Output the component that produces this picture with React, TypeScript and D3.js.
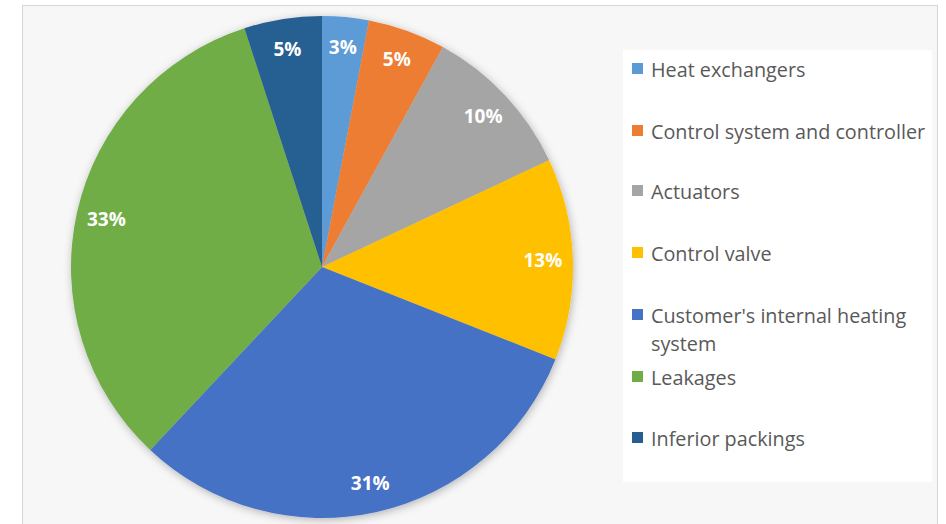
import React from "react";
import * as d3 from "d3";

const categories = [
  "Heat exchangers",
  "Control system and controller",
  "Actuators",
  "Control valve",
  "Customer's internal heating system",
  "Leakages",
  "Inferior packings",
];
const shares = [3, 5, 10, 13, 31, 33, 5];
const colors = ["#5B9BD5", "#ED7D31", "#A5A5A5", "#FFC000", "#4472C4", "#70AD47", "#255E91"];
// Legend entries split into display lines
const legendLines = [
  ["Heat exchangers"],
  ["Control system and controller"],
  ["Actuators"],
  ["Control valve"],
  ["Customer's internal heating", "system"],
  ["Leakages"],
  ["Inferior packings"],
];
const legendRowY = [69, 131, 191, 253, 315, 377, 438];

const W = 946;
const H = 524;
const cx = 322;
const cy = 267;
const radius = 251;
const labelRadius = 221;
const font = "'Open Sans', 'DejaVu Sans', sans-serif";

export default function App() {
  const pie = d3.pie<number>().sort(null).value((d) => d);
  const arcs = pie(shares);
  const arc = d3.arc<d3.PieArcDatum<number>>().innerRadius(0).outerRadius(radius);
  const labelArc = d3
    .arc<d3.PieArcDatum<number>>()
    .innerRadius(labelRadius)
    .outerRadius(labelRadius);

  return (
    <svg
      width={W}
      height={H}
      style={{ position: "absolute", left: 0, top: 0, display: "block" }}
    >
      <defs>
        <filter id="pieShadow" x="-20%" y="-20%" width="140%" height="140%">
          <feDropShadow dx="1" dy="2" stdDeviation="4" floodColor="#000" floodOpacity="0.28" />
        </filter>
      </defs>
      <rect x={0} y={0} width={W} height={H} fill="#ffffff" />
      <rect x={22.5} y={5.5} width={915} height={530} fill="#f7f7f7" stroke="#d6d6d6" strokeWidth={1} />

      <g transform={`translate(${cx},${cy})`}>
        <g filter="url(#pieShadow)">
          {arcs.map((a, i) => (
            <path key={categories[i]} d={arc(a) || ""} fill={colors[i]} />
          ))}
        </g>
        {arcs.map((a, i) => {
          const [x, y] = labelArc.centroid(a);
          return (
            <text
              key={"l" + i}
              x={x}
              y={y}
              textAnchor="middle"
              dominantBaseline="central"
              fill="#ffffff"
              fontFamily={font}
              fontWeight={700}
              fontSize={19}
            >
              {shares[i]}%
            </text>
          );
        })}
      </g>

      <rect x={623} y={50} width={309} height={432} fill="#ffffff" />
      {categories.map((c, i) => (
        <g key={"lg" + c}>
          <rect x={632} y={legendRowY[i] - 6} width={11} height={11} fill={colors[i]} />
          {legendLines[i].map((line, j) => (
            <text
              key={j}
              x={651}
              y={legendRowY[i] + j * 28}
              dominantBaseline="central"
              fill="#595959"
              fontFamily={font}
              fontSize={19.8}
            >
              {line}
            </text>
          ))}
        </g>
      ))}
    </svg>
  );
}
